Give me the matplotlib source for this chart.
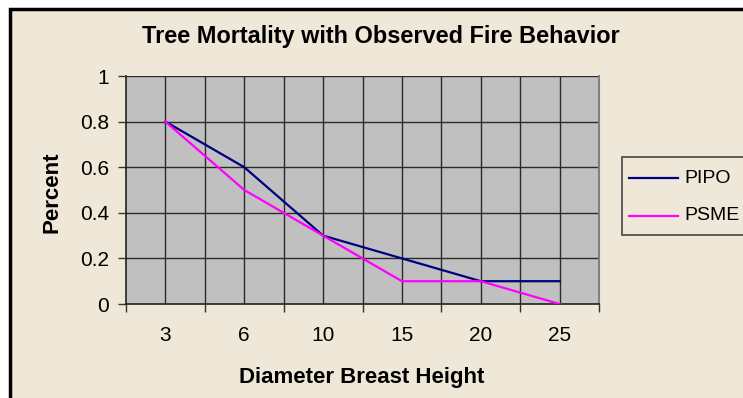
import matplotlib.pyplot as plt
from matplotlib.patches import Rectangle
from matplotlib.lines import Line2D

plt.rcParams['font.family'] = ['Liberation Sans', 'DejaVu Sans']

# diameter classes and mortality fraction per species
dbh = ['3', '6', '10', '15', '20', '25']
pipo = [0.8, 0.6, 0.3, 0.2, 0.1, 0.1]
psme = [0.8, 0.5, 0.3, 0.1, 0.1, 0.0]
yticks = [0, 0.2, 0.4, 0.6, 0.8, 1]
ytick_labels = ['0', '0.2', '0.4', '0.6', '0.8', '1']

W, H = 743, 398
fig = plt.figure(figsize=(W / 100, H / 100), dpi=100, facecolor='white')

def fx(px):
    return px / W

def fy(py):
    return 1 - py / H

# chart area with black border (runs off right and bottom edge)
bg = '#EFE7D7'
fig.patches.append(Rectangle((fx(10), -0.05), 1.1, fy(9) + 0.05,
                             transform=fig.transFigure, facecolor=bg,
                             edgecolor='black', linewidth=2.5, zorder=-1))

left, right, top, bottom = 126, 599, 76, 304
ax = fig.add_axes([fx(left), fy(bottom), (right - left) / W, (bottom - top) / H])
ax.set_facecolor('#C0C0C0')

x = [i + 0.5 for i in range(len(dbh))]

# gridlines at category centres and boundaries
for gx in [i * 0.5 for i in range(1, 2 * len(dbh))]:
    ax.axvline(gx, color='#2a2a2a', linewidth=1, zorder=1)
for gy in yticks[1:]:
    ax.axhline(gy, color='#2a2a2a', linewidth=1, zorder=1)

l1, = ax.plot(x, pipo, color='#000080', linewidth=1.6, label='PIPO', zorder=3)
l2, = ax.plot(x, psme, color='#FF00FF', linewidth=1.6, label='PSME', zorder=3)

ax.set_xlim(0, len(dbh))
ax.set_ylim(0, 1)

ax.set_xticks(range(len(dbh) + 1))
ax.set_xticklabels([])
ax.set_xticks(x, minor=True)
ax.set_xticklabels(dbh, minor=True, fontsize=15)
ax.tick_params(axis='x', which='major', direction='out', length=6, width=1, color='#333333')
ax.tick_params(axis='x', which='minor', length=0, pad=16)

ax.set_yticks(yticks)
ax.set_yticklabels(ytick_labels, fontsize=15)
ax.tick_params(axis='y', direction='out', length=6, width=1, color='#333333', pad=6)

for s in ['left', 'bottom']:
    ax.spines[s].set_color('#222222')
    ax.spines[s].set_linewidth(1.2)
ax.spines['right'].set_color('#808080')
ax.spines['right'].set_linewidth(1.5)
ax.spines['top'].set_visible(False)

fig.text(fx(381), fy(36), 'Tree Mortality with Observed Fire Behavior',
         ha='center', va='center', fontsize=16.9, fontweight='bold')
fig.text(fx(362), fy(377), 'Diameter Breast Height',
         ha='center', va='center', fontsize=16, fontweight='bold')
fig.text(fx(52), fy(192), 'Percent', ha='center', va='center',
         rotation=90, fontsize=16, fontweight='bold')

# legend box, clipped by the right edge
fig.patches.append(Rectangle((fx(622), fy(235)), 0.2, (235 - 157) / H,
                             transform=fig.transFigure, facecolor=bg,
                             edgecolor='#444444', linewidth=1.2, zorder=2))
for line, ky in [(l1, 178), (l2, 216)]:
    fig.lines.append(Line2D([fx(629), fx(678)], [fy(ky), fy(ky)],
                            transform=fig.transFigure, color=line.get_color(),
                            linewidth=1.6, zorder=3))
    fig.text(fx(684), fy(ky), line.get_label(), ha='left', va='center',
             fontsize=14, zorder=3)

fig.savefig('out.png', dpi=100, facecolor='white')
